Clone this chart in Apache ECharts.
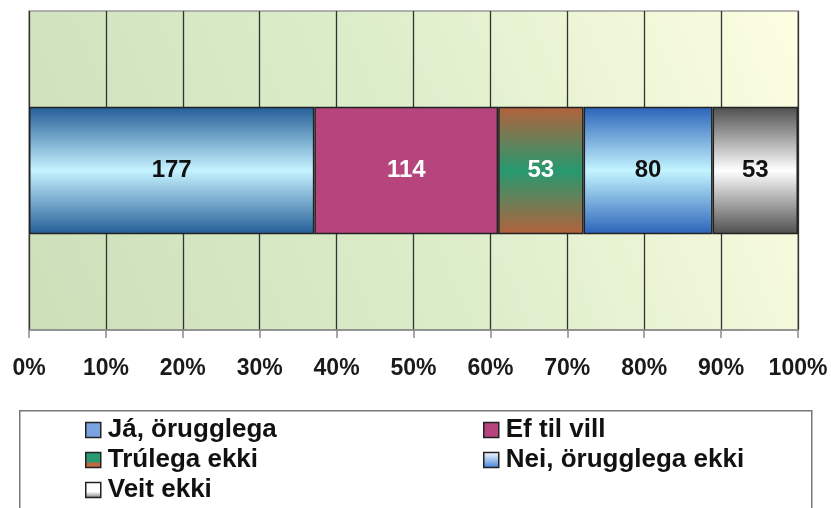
<!DOCTYPE html>
<html>
<head>
<meta charset="utf-8">
<script src="https://cdn.jsdelivr.net/npm/echarts@6/dist/echarts.min.js"></script>
<style>
  html, body { margin: 0; padding: 0; background: #fff; }
  #chart { width: 831px; height: 508px; }
</style>
</head>
<body>
<div id="chart"></div>
<script>
// svör (fjöldi) í sömu röð og í súlunni
const answers = ['Já, örugglega', 'Ef til vill', 'Trúlega ekki', 'Nei, örugglega ekki', 'Veit ekki'];
const counts = [177, 114, 53, 80, 53];
const category = ['Svar'];
const tickValues = [0, 10, 20, 30, 40, 50, 60, 70, 80, 90, 100];

const total = counts.reduce((a, b) => a + b, 0);

function vGrad(edge, mid) {
  return new echarts.graphic.LinearGradient(0, 0, 0, 1, [
    { offset: 0, color: edge },
    { offset: 0.5, color: mid },
    { offset: 1, color: edge }
  ]);
}

const segColors = [
  vGrad('#245d98', '#c6f3ff'),
  '#b5457c',
  vGrad('#b4613c', '#27996f'),
  vGrad('#2a63b9', '#c3f4ff'),
  vGrad('#4e4e4e', '#ffffff')
];
const labelColors = ['#111', '#fff', '#fff', '#111', '#111'];

const legendIcons = [
  '#7aa3e0',
  '#b5457c',
  new echarts.graphic.LinearGradient(0, 0, 0, 1, [
    { offset: 0, color: '#2a9a70' }, { offset: 0.6, color: '#2a9a70' },
    { offset: 0.7, color: '#c06a40' }, { offset: 1, color: '#c06a40' }
  ]),
  new echarts.graphic.LinearGradient(0, 0, 0, 1, [
    { offset: 0, color: '#ffffff' }, { offset: 1, color: '#3d7fd8' }
  ]),
  new echarts.graphic.LinearGradient(0, 0, 0, 1, [
    { offset: 0, color: '#ffffff' }, { offset: 0.6, color: '#ffffff' }, { offset: 1, color: '#777' }
  ])
];

const chart = echarts.init(document.getElementById('chart'), null, { renderer: 'canvas' });

const legendBase = {
  orient: 'vertical',
  padding: 0,
  height: 100,
  itemWidth: 15,
  itemHeight: 15,
  itemGap: 2,
  icon: 'rect',
  selectedMode: false,
  itemStyle: { borderColor: '#222', borderWidth: 1.5 },
  textStyle: {
    fontFamily: 'Liberation Sans, Arial, sans-serif',
    fontWeight: 'bold',
    fontSize: 26,
    lineHeight: 28,
    color: '#111',
    padding: [0, 0, 0, 2]
  }
};

const legendItem = (i) => ({ name: answers[i], itemStyle: { color: legendIcons[i] } });

chart.setOption({
  animation: false,
  backgroundColor: '#fff',
  graphic: [{
    type: 'rect',
    left: 19,
    top: 410,
    shape: { width: 792, height: 110 },
    style: { fill: '#fff', stroke: '#777', lineWidth: 1.5 },
    z: -1
  }],
  legend: [
    Object.assign({}, legendBase, { left: 85, top: 416, data: [0, 2, 4].map(legendItem) }),
    Object.assign({}, legendBase, { left: 483, top: 416, data: [1, 3].map(legendItem) })
  ],
  grid: {
    left: 29,
    right: 33,
    top: 11,
    bottom: 178,
    show: true,
    borderColor: '#9a9a9a',
    borderWidth: 1.5,
    backgroundColor: new echarts.graphic.LinearGradient(0, 1, 1, 0, [
      { offset: 0, color: '#cddfb9' },
      { offset: 0.5, color: '#dcedca' },
      { offset: 1, color: '#fdfee2' }
    ])
  },
  xAxis: {
    type: 'value',
    min: 0,
    max: 100,
    interval: 10,
    axisLine: { show: true, lineStyle: { color: '#8a8a8a', width: 1.5 } },
    axisTick: { show: true, length: 8, lineStyle: { color: '#8a8a8a', width: 1.5 } },
    splitLine: { show: true, lineStyle: { color: '#333', width: 1.3 } },
    axisLabel: {
      margin: 27,
      formatter: (v) => tickValues.includes(v) ? v + '%' : '',
      fontFamily: 'Liberation Sans, Arial, sans-serif',
      fontWeight: 'bold',
      fontSize: 23,
      color: '#1a1a1a'
    }
  },
  yAxis: {
    type: 'category',
    data: category,
    show: false
  },
  series: answers.map((name, i) => ({
    name: name,
    type: 'bar',
    stack: 'all',
    barWidth: '40%',
    data: [counts[i] / total * 100],
    itemStyle: { color: segColors[i], borderColor: '#222', borderWidth: 1.5 },
    label: {
      show: true,
      position: 'inside',
      formatter: () => String(counts[i]),
      fontFamily: 'Liberation Sans, Arial, sans-serif',
      fontWeight: 'bold',
      fontSize: 24,
      color: labelColors[i]
    }
  }))
});
</script>
</body>
</html>
